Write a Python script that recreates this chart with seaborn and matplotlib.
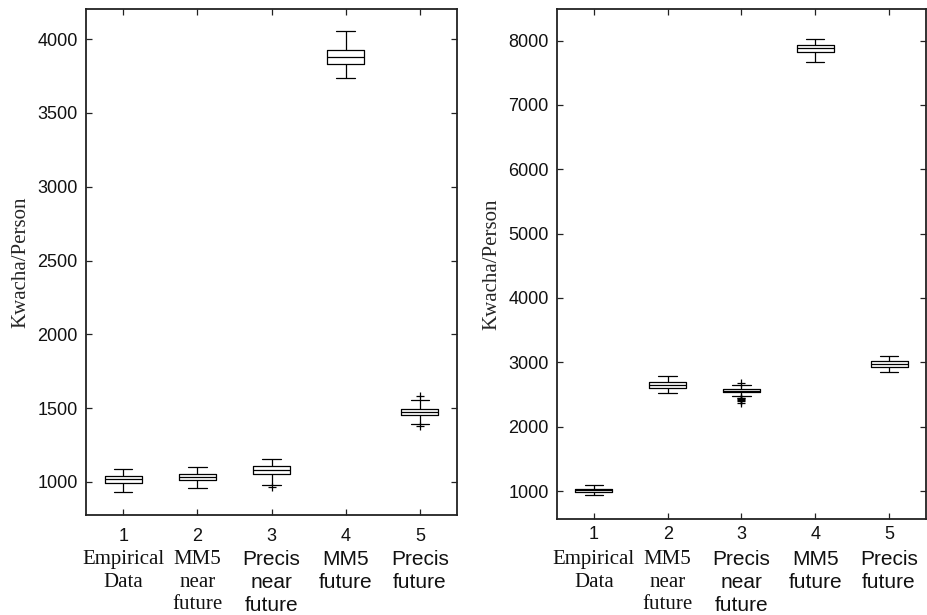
import numpy as np
import pandas as pd
import matplotlib
matplotlib.use("Agg")
import matplotlib.pyplot as plt
import matplotlib.transforms as mtransforms
import seaborn as sns

# Scenario categories (x positions 1..5)
tick_labels = ["1", "2", "3", "4", "5"]
category_labels = ["Empirical\nData", "MM5\nnear\nfuture", "Precis\nnear\nfuture",
                   "MM5\nfuture", "Precis\nfuture"]
category_serif = [True, True, False, False, False]

# Left panel: box summaries (Kwacha/Person)
left_whislo = [932, 957, 978, 3739, 1394]
left_q1 = [991, 1009, 1052, 3831, 1451]
left_med = [1020, 1032, 1081, 3877, 1473]
left_q3 = [1041, 1054, 1110, 3924, 1494]
left_whishi = [1090, 1101, 1155, 4054, 1556]
left_low_out = [[], [], [962], [], [1380]]
left_high_out = [[], [], [], [], [1580]]
left_yticks = [1000, 1500, 2000, 2500, 3000, 3500, 4000]

# Right panel: box summaries (Kwacha/Person)
right_whislo = [938, 2524, 2473, 7664, 2850]
right_q1 = [989, 2608, 2535, 7819, 2933]
right_med = [1015, 2654, 2561, 7881, 2975]
right_q3 = [1033, 2690, 2586, 7938, 3016]
right_whishi = [1092, 2794, 2643, 8026, 3098]
right_low_out = [[], [], [2445, 2438, 2430, 2420, 2395, 2372], [], []]
right_high_out = [[], [], [2679], [], []]
right_yticks = [1000, 2000, 3000, 4000, 5000, 6000, 7000, 8000]


def values_for_box(lo, q1, med, q3, hi, low_out, high_out):
    """Ordered sample whose quartiles, whiskers and outliers equal the given summary."""
    a = len(low_out) + 1
    b = len(high_out) + 1
    k = max(a, b) + 4
    return (sorted(low_out) + [lo] + [q1] * (2 * k - a) + [med]
            + [q3] * (2 * k - b) + [hi] + sorted(high_out))


def build_table(whislo, q1, med, q3, whishi, low_out, high_out):
    rows = []
    for i, lab in enumerate(tick_labels):
        for v in values_for_box(whislo[i], q1[i], med[i], q3[i], whishi[i],
                                low_out[i], high_out[i]):
            rows.append({"scenario": lab, "value": v})
    return pd.DataFrame(rows)


left_df = build_table(left_whislo, left_q1, left_med, left_q3, left_whishi,
                      left_low_out, left_high_out)
right_df = build_table(right_whislo, right_q1, right_med, right_q3, right_whishi,
                       right_low_out, right_high_out)

sns.set_style("ticks")
plt.rcParams["font.family"] = ["Liberation Sans", "DejaVu Sans"]
plt.rcParams["axes.linewidth"] = 1.3

fig = plt.figure(figsize=(9.28, 6.15), dpi=100)
ax_l = fig.add_axes([0.0927, 0.1626, 0.3998, 0.8228])
ax_r = fig.add_axes([0.6002, 0.1561, 0.3976, 0.8293])

serif = ["Liberation Serif", "DejaVu Serif"]
sans = ["Liberation Sans", "DejaVu Sans"]


def draw_panel(ax, df, ylim, yticks, xpad):
    sns.boxplot(data=df, x="scenario", y="value", order=tick_labels, ax=ax,
                width=0.5, fill=False, color="black", linecolor="black",
                linewidth=0.9,
                flierprops=dict(marker="+", markersize=6, markeredgecolor="black",
                                markeredgewidth=0.9),
                medianprops=dict(color="black", linewidth=0.9))
    ax.set_xlim(-0.5, 4.5)
    ax.set_ylim(*ylim)
    ax.set_yticks(yticks)
    ax.set_yticklabels([str(t) for t in yticks])
    ax.set_xticks(range(len(tick_labels)))
    ax.set_xticklabels(tick_labels)
    ax.set_xlabel("")
    ax.set_ylabel("Kwacha/Person", family=serif, fontsize=15, labelpad=5)
    for s in ax.spines.values():
        s.set_visible(True)
        s.set_color("#222222")
    ax.tick_params(direction="in", length=4, width=0.9, top=True, right=True,
                   labelsize=13, colors="#222222", labelcolor="#111111", pad=6)
    ax.tick_params(axis="x", pad=xpad)
    trans = mtransforms.blended_transform_factory(ax.transData, fig.transFigure)
    for i, (txt, is_serif) in enumerate(zip(category_labels, category_serif)):
        ax.text(i, 0.1049, txt, transform=trans, ha="center", va="top",
                fontsize=15, family=serif if is_serif else sans,
                linespacing=1.25, color="#111111")


draw_panel(ax_l, left_df, (775, 4205), left_yticks, xpad=9)
draw_panel(ax_r, right_df, (565, 8490), right_yticks, xpad=5)

fig.savefig("out.png", dpi=100)
